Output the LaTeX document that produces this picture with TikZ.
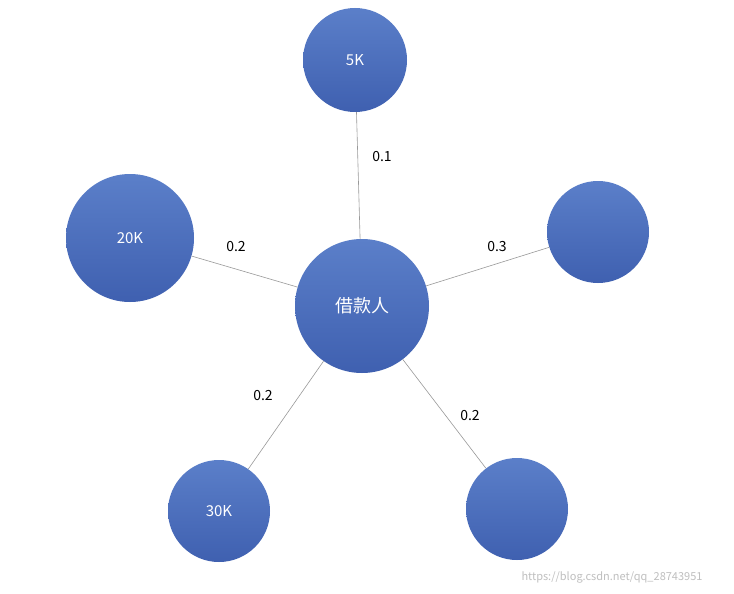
\documentclass[tikz,border=0pt]{standalone}
\usepackage{fontspec}
\setmainfont{Noto Sans CJK SC}
\begin{document}
\begin{tikzpicture}[x=1pt,y=-1pt,
  ball/.style={circle,inner sep=0pt,top color=blue1,bottom color=blue2,draw=none,text=white,font=\fontsize{15}{15}\selectfont},
  link/.style={draw=gray!80,line width=0.6pt},
  wt/.style={font=\fontsize{14}{14}\selectfont,text=black}]
\definecolor{blue1}{HTML}{5B7FC9}
\definecolor{blue2}{HTML}{3F60B0}
\useasboundingbox[fill=white] (0,0) rectangle (734,594);
\node[ball,minimum size=134pt,font=\fontsize{18}{18}\selectfont] (c) at (362,306) {借款人};
\node[ball,minimum size=104pt] (a) at (355,60) {5K};
\node[ball,minimum size=128pt] (b) at (130,238) {20K};
\node[ball,minimum size=102pt] (r) at (598,232) {};
\node[ball,minimum size=102pt] (d) at (219,511) {30K};
\node[ball,minimum size=102pt] (e) at (517,509) {};
\draw[link] (c) -- (a);
\draw[link] (c) -- (b);
\draw[link] (c) -- (r);
\draw[link] (c) -- (d);
\draw[link] (c) -- (e);
\node[wt] (l1) at (382,157) {0.1};
\node[wt] (l2) at (236,247) {0.2};
\node[wt] (l3) at (497,247) {0.3};
\node[wt] (l4) at (263,396) {0.2};
\node[wt] (l5) at (470,416) {0.2};
\node[text=gray!50,font=\fontsize{11}{11}\selectfont] (w) at (612,577) {https://blog.csdn.net/qq\_28743951};
\end{tikzpicture}
\end{document}
